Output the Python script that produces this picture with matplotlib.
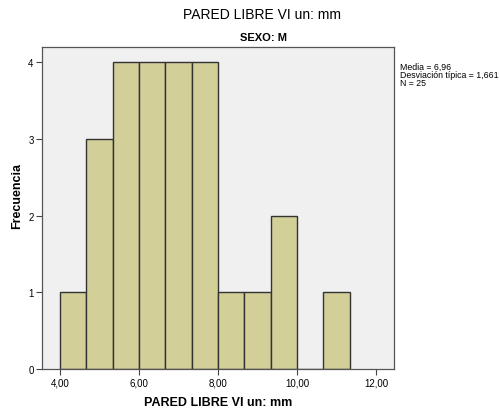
import numpy as np
import matplotlib
matplotlib.use('Agg')
import matplotlib.pyplot as plt

plt.rcParams['font.family'] = ['Liberation Sans', 'DejaVu Sans']

# Histograma de PARED LIBRE VI (mm), sexo M
bin_edges = [4.0, 4.667, 5.333, 6.0, 6.667, 7.333, 8.0, 8.667, 9.333, 10.0, 10.667, 11.333]
frecuencias = [1, 3, 4, 4, 4, 4, 1, 1, 2, 0, 1]
x_ticks = [4, 6, 8, 10, 12]
y_ticks = [0, 1, 2, 3, 4]
media, desv, n = 6.96, 1.661, 25

fig = plt.figure(figsize=(5, 4.1), dpi=100)
ax = fig.add_axes([0.084, 0.0976, 0.704, 0.785])
ax.set_facecolor('#f0f0f0')

lefts = np.array(bin_edges[:-1])
widths = np.diff(bin_edges)
ax.bar(lefts, frecuencias, width=widths, align='edge',
       color='#d3cf99', edgecolor='#333333', linewidth=1.0)

ax.set_xlim(3.544, 12.456)
ax.set_ylim(0, 4.2)
ax.set_xticks(x_ticks)
ax.set_xticklabels([f"{v:.2f}".replace('.', ',') for v in x_ticks], fontsize=7)
ax.set_yticks(y_ticks)
ax.set_yticklabels([str(v) for v in y_ticks], fontsize=7)
ax.tick_params(direction='out', length=4, width=0.8, color='#444444', pad=2)

for s in ax.spines.values():
    s.set_color('#555555')
    s.set_linewidth(0.9)

ax.set_xlabel('PARED LIBRE VI un: mm', fontsize=9, fontweight='bold', labelpad=6)
ax.set_ylabel('Frecuencia', fontsize=9, fontweight='bold')
ax.yaxis.set_label_coords(-0.054, 0.54)

fig.text(0.524, 0.963, 'PARED LIBRE VI un: mm', ha='center', va='center', fontsize=10)
fig.text(0.526, 0.907, 'SEXO: M', ha='center', va='center', fontsize=8, fontweight='bold')

fig.text(0.800, 0.846,
         f"Media = {media:.2f}".replace('.', ',') + "\n"
         + f"Desviación típica = {desv:.3f}".replace('.', ',') + "\n"
         + f"N = {n}",
         ha='left', va='top', fontsize=6.3, linespacing=0.85)

plt.savefig('out.png', dpi=100)
